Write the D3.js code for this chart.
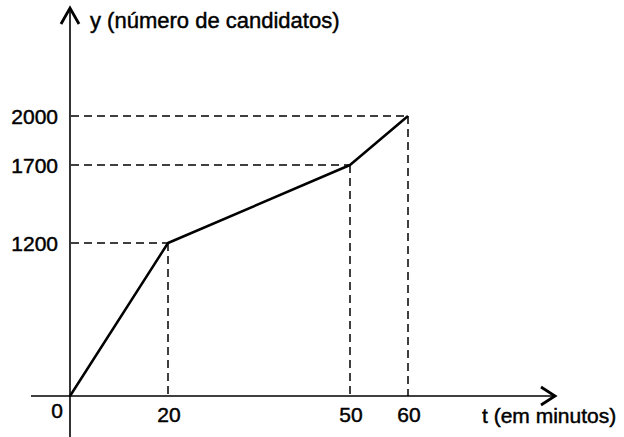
<!DOCTYPE html>
<html>
<head>
<meta charset="utf-8">
<script src="https://cdn.jsdelivr.net/npm/d3@7"></script>
<style>
  html, body { margin: 0; padding: 0; background: #fff; }
  svg { display: block; }
  text { font-family: "Liberation Sans", Arial, sans-serif; fill: #000; stroke: #000; stroke-width: 0.45px; }
</style>
</head>
<body>
<svg id="chart" width="624" height="437"></svg>
<script>
// Data
const tValues = [0, 20, 50, 60];
const yValues = [0, 1200, 1700, 2000];
const xTickLabels = ["0", "20", "50", "60"];
const yTickLabels = ["1200", "1700", "2000"];
const yTickValues = [1200, 1700, 2000];
const xAxisTitle = "t (em minutos)";
const yAxisTitle = "y (número de candidatos)";

const svg = d3.select("#chart");

// Hand-drawn (non-uniform) axes in the reference: piecewise-linear scales
const x = d3.scaleLinear().domain([0, 20, 50, 60]).range([70, 168, 350, 408]);
const y = d3.scaleLinear().domain([0, 1200, 1700, 2000]).range([396, 243, 165, 116]);

const ox = x(0), oy = y(0);

// Dashed guides
const pts = tValues.map((t, i) => ({ t, v: yValues[i] })).filter(d => d.t > 0);
svg.selectAll("line.hguide").data(pts).enter().append("line")
  .attr("x1", ox + 1).attr("x2", d => x(d.t))
  .attr("y1", d => y(d.v)).attr("y2", d => y(d.v))
  .attr("stroke", "#000").attr("stroke-width", 1.5)
  .attr("stroke-dasharray", "8,5");
svg.selectAll("line.vguide").data(pts).enter().append("line")
  .attr("x1", d => x(d.t)).attr("x2", d => x(d.t))
  .attr("y1", d => y(d.v)).attr("y2", oy)
  .attr("stroke", "#000").attr("stroke-width", 1.5)
  .attr("stroke-dasharray", "8,5");

// Axes
svg.append("line").attr("x1", 31).attr("x2", 555).attr("y1", oy).attr("y2", oy)
  .attr("stroke", "#000").attr("stroke-width", 1.6);
svg.append("line").attr("x1", ox).attr("x2", ox).attr("y1", 437).attr("y2", 8)
  .attr("stroke", "#000").attr("stroke-width", 1.6);

// Arrowheads
svg.append("path").attr("d", `M${ox - 9},${24} L${ox},${8} L${ox + 9},${24}`)
  .attr("fill", "none").attr("stroke", "#000").attr("stroke-width", 2.8)
  .attr("stroke-linejoin", "miter");
svg.append("path").attr("d", `M${541},${oy - 9} L${555},${oy} L${541},${oy + 9}`)
  .attr("fill", "none").attr("stroke", "#000").attr("stroke-width", 2.8)
  .attr("stroke-linejoin", "miter");

// Data line
const line = d3.line().x((d, i) => x(tValues[i])).y(d => y(d));
svg.append("path").datum(yValues).attr("d", line)
  .attr("fill", "none").attr("stroke", "#000").attr("stroke-width", 2.5)
  .attr("stroke-linejoin", "round");

// Y tick labels
svg.selectAll("text.ylab").data(yTickValues).enter().append("text")
  .attr("x", 58).attr("y", d => y(d) + 8)
  .attr("text-anchor", "end").attr("font-size", 21)
  .text((d, i) => yTickLabels[i]);

// X tick labels
svg.selectAll("text.xlab").data(tValues).enter().append("text")
  .attr("x", (d, i) => i === 0 ? ox - 13 : x(d) + 1)
  .attr("y", (d, i) => i === 0 ? 418 : 422)
  .attr("text-anchor", "middle").attr("font-size", 21)
  .text((d, i) => xTickLabels[i]);

// Axis titles
svg.append("text").attr("x", 90).attr("y", 28).attr("font-size", 22).text(yAxisTitle);
svg.append("text").attr("x", 482).attr("y", 423).attr("font-size", 21).text(xAxisTitle);
</script>
</body>
</html>
